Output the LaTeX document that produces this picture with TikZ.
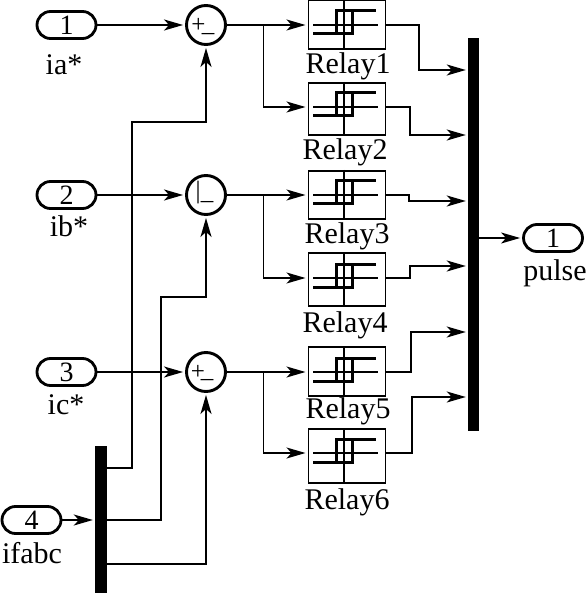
\documentclass[tikz,border=0pt]{standalone}
\usepackage{fontspec}
\setmainfont{Liberation Serif}
\usetikzlibrary{arrows.meta,shapes.misc,calc}
\tikzset{
  lbl/.style={inner sep=0pt,font=\fontsize{30}{32}\selectfont},
  pill/.style={draw,rounded rectangle,line width=2.8pt,minimum width=59pt,minimum height=27pt,inner sep=0pt,font=\fontsize{28}{28}\selectfont},
  sumb/.style={draw,circle,line width=2.9pt,minimum size=39pt,inner sep=0pt},
  relaybox/.style={draw,line width=1.7pt,minimum width=77pt,inner sep=0pt},
  bar/.style={fill=black,inner sep=0pt},
  sig/.style={line width=1.6pt,-{Stealth[length=19pt,width=11pt,inset=5pt]},shorten >=2pt},
  sign/.style={inner sep=0pt,font=\fontsize{25}{25}\selectfont}
}
\newcommand{\RelayBlock}[7]{% name, top, bottom, port y, label x, label y, text
  \node[relaybox,minimum height=#3pt-#2pt,anchor=north west] (#1) at (307.5,#2) {};
  \coordinate (#1p) at (345,#4);
  \draw[line width=1.3pt] (313,#4) -- (378,#4);
  \draw[line width=1.3pt] (344,#2) -- (344,#3);
  \draw[line width=3pt] (313,#4+9) -- (352,#4+9) -- (352,#4-14) -- (336,#4-14) -- (336,#4+9);
  \draw[line width=3pt] (352,#4-14) -- (376,#4-14);
  \node[lbl] (#1t) at (#5,#6) {#7};
}
\begin{document}
\begin{tikzpicture}[x=1pt,y=-1pt]
\useasboundingbox (0,0) rectangle (587,593);
% inputs
\node[pill] (in1) at (66.5,25) {1};
\node[pill] (in2) at (66.5,195) {2};
\node[pill] (in3) at (66.5,372) {3};
\node[pill] (in4) at (31.5,520) {4};
\node[lbl] (l1) at (64,65) {ia*};
\node[lbl] (l2) at (69,226) {ib*};
\node[lbl] (l3) at (66,405) {ic*};
\node[lbl] (l4) at (32,553) {ifabc};
% sums
\node[sumb] (s1) at (206,25) {};
\node[sumb] (s2) at (206,195) {};
\node[sumb] (s3) at (206,372) {};
\node[sign] (p1) at (198.5,25) {+};
\node[sign] (m1) at (208,33) {\_};
\node[sign] (p2) at (198,193) {|};
\node[sign] (m2) at (207,201) {\_};
\node[sign] (p3) at (198,372) {+};
\node[sign] (m3) at (207,379) {\_};
% relays
\RelayBlock{r1}{-1}{48}{25}{348}{66}{Relay1}
\RelayBlock{r2}{82}{134}{107}{345}{152}{Relay2}
\RelayBlock{r3}{170}{218}{195}{347}{236}{Relay3}
\RelayBlock{r4}{252}{305}{278}{345}{325}{Relay4}
\RelayBlock{r5}{346}{395}{372}{348}{411}{Relay5}
\RelayBlock{r6}{428}{482}{453}{347}{502}{Relay6}
% bars
\node[bar,minimum width=11pt,minimum height=393pt] (mux) at (473.5,234.5) {};
\node[bar,minimum width=12pt,minimum height=150pt] (dem) at (101,521) {};
\node[pill] (out) at (553,238) {1};
\node[lbl] (outl) at (555,273) {pulse};
% connectors
\draw[sig] (in1.east) -- (s1.west);
\draw[sig] (in2.east) -- (s2.west);
\draw[sig] (in3.east) -- (s3.west);
\draw[sig] (in4.east) -- (dem.west |- in4);
\draw[sig] (mux.east |- out) -- (out.west);
\draw[sig] (s1.east) -- (r1.west |- r1p);
\draw[sig] (s2.east) -- (r3.west |- r3p);
\draw[sig] (s3.east) -- (r5.west |- r5p);
\draw[sig] (s1.east) -- ++(36.5,0) |- (r2.west |- r2p);
\draw[sig] (s2.east) -- ++(36.5,0) |- (r4.west |- r4p);
\draw[sig] (s3.east) -- ++(36.5,0) |- (r6.west |- r6p);
\draw[sig] (r1.east |- r1p) -| (419,70) -- (mux.west |- 0,70);
\draw[sig] (r2.east |- r2p) -| (410,135) -- (mux.west |- 0,135);
\draw[sig] (r3.east |- r3p) -| (409,201) -- (mux.west |- 0,201);
\draw[sig] (r4.east |- r4p) -| (410,266) -- (mux.west |- 0,266);
\draw[sig] (r5.east |- r5p) -| (411,332) -- (mux.west |- 0,332);
\draw[sig] (r6.east |- r6p) -| (412,397) -- (mux.west |- 0,397);
\draw[sig] (dem.east |- 0,468) -| (132,122) -| (s1.south);
\draw[sig] (dem.east |- in4) -| (161,297) -| (s2.south);
\draw[sig] (dem.east |- 0,564) -| (s3.south);
\end{tikzpicture}
\end{document}
